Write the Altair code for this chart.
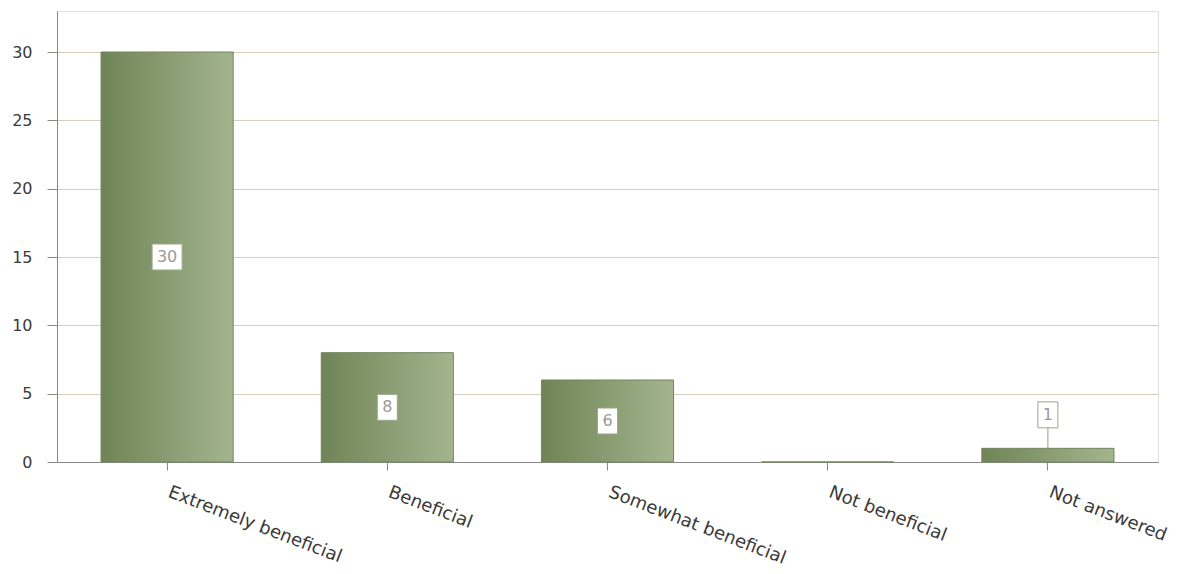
import altair as alt
import pandas as pd

categories = ["Extremely beneficial", "Beneficial", "Somewhat beneficial", "Not beneficial", "Not answered"]
counts = [30, 8, 6, 0, 1]
labels = ["30", "8", "6", "", "1"]

df = pd.DataFrame({"category": categories, "count": counts, "label": labels})

x = alt.X("category:N", sort=categories, title=None,
          scale=alt.Scale(paddingInner=0.4, paddingOuter=0.2),
          axis=alt.Axis(labelAngle=21, labelAlign="left", labelBaseline="top",
                        labelFontSize=18, labelColor="#3a3a3a", labelFont="DejaVu Sans",
                        labelLimit=400,
                        labelPadding=13, labelOffset=5, tickSize=8, tickColor="#888888",
                        domainColor="#888888", grid=False))
y_scale = alt.Scale(domain=[0, 33], nice=False)

grad = alt.Gradient(gradient="linear",
                    stops=[alt.GradientStop(color="#6f8456", offset=0),
                           alt.GradientStop(color="#a4b58e", offset=1)],
                    x1=0, x2=1, y1=0, y2=0)

bars = alt.Chart(df).mark_bar(color=grad, stroke="#738560", strokeWidth=1).encode(
    x=x,
    y=alt.Y("count:Q", scale=y_scale, title=None,
            axis=alt.Axis(values=[0, 5, 10, 15, 20, 25, 30], labelFontSize=16,
                          labelColor="#3a3a3a", labelFont="DejaVu Sans",
                          tickSize=10, tickColor="#888888", domainColor="#888888",
                          gridColor="#d6cebe", labelPadding=15)),
)

lab = alt.Chart(df).transform_filter("datum.count > 0").transform_calculate(
    mid="datum.count >= 3 ? datum.count / 2 : datum.count + 2.45",
    lo="datum.mid - 0.95",
    hi="datum.mid + 0.95",
    w="10 + 10 * length(datum.label)",
)

connector = lab.transform_filter("datum.count < 3").mark_rule(color="#8f9e7e").encode(
    x=alt.X("category:N", sort=categories),
    y=alt.Y("count:Q", scale=y_scale),
    y2="lo:Q",
)

boxes = lab.mark_bar(color="white", stroke="#9aa889", strokeWidth=1).encode(
    x=alt.X("category:N", sort=categories),
    y=alt.Y("lo:Q", scale=y_scale),
    y2="hi:Q",
    size=alt.Size("w:Q", scale=None, legend=None),
)

texts = lab.mark_text(color="#9a9a9a", fontSize=16, font="DejaVu Sans").encode(
    x=alt.X("category:N", sort=categories),
    y=alt.Y("mid:Q", scale=y_scale),
    text="label:N",
)

chart = alt.layer(bars, connector, boxes, texts).properties(
    width=1101, height=451,
    padding={"left": 3, "top": 3, "right": 5, "bottom": 5},
).configure_view(fill="#f6efe1", stroke="#cfc7b6").configure(background="white")

chart.save("out.html", embed_options={"renderer": "svg", "actions": False})
